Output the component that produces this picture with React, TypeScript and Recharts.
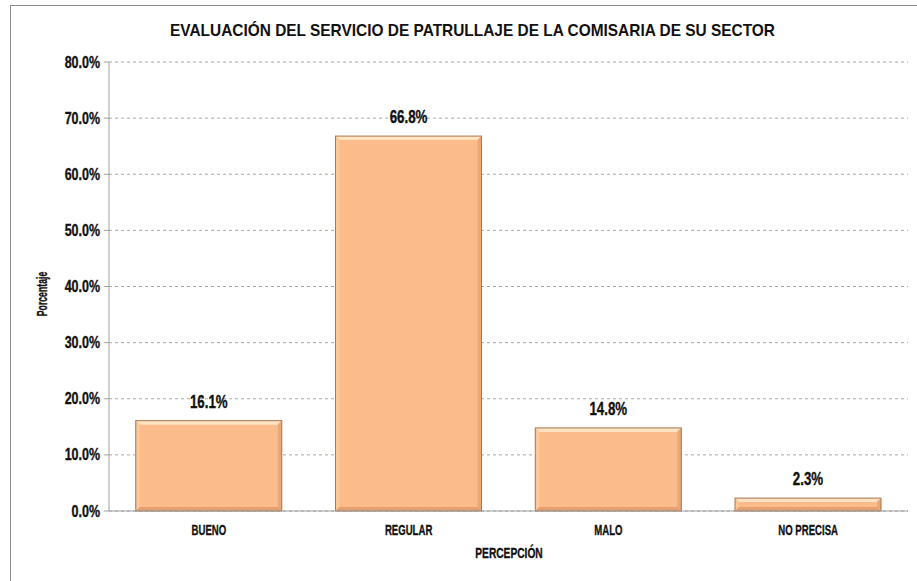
import { BarChart, Bar, XAxis, YAxis, CartesianGrid, LabelList } from 'recharts';

const categories = ['BUENO', 'REGULAR', 'MALO', 'NO PRECISA'];
const percentages = [16.1, 66.8, 14.8, 2.3];
const yTicks = [0, 10, 20, 30, 40, 50, 60, 70, 80];

const data = categories.map((name, i) => ({ name, value: percentages[i] }));

const FONT = "'Liberation Sans', Arial, sans-serif";

// narrow, tall text to imitate the condensed font of the original
function NarrowText({ x, y, text, size, sx, anchor = 'middle', rotate = 0 }: any) {
  return (
    <text
      transform={`translate(${x},${y}) rotate(${rotate}) scale(${sx},1)`}
      textAnchor={anchor}
      dominantBaseline="central"
      fontFamily={FONT}
      fontWeight="bold"
      fontSize={size}
      fill="#111"
      stroke="#111"
      strokeWidth={0.35}
    >
      {text}
    </text>
  );
}

function YTick(props: any) {
  const { x, y, payload } = props;
  return <NarrowText x={x - 2} y={y} text={`${payload.value.toFixed(1)}%`} size={16} sx={0.78} anchor="end" />;
}

function XTick(props: any) {
  const { x, y, payload } = props;
  return <NarrowText x={x} y={y + 11} text={payload.value} size={15} sx={0.64} />;
}

function ValueLabel(props: any) {
  const { x, y, width, value } = props;
  return <NarrowText x={x + width / 2} y={y - 19} text={`${Number(value).toFixed(1)}%`} size={18} sx={0.74} />;
}

function BevelBar(props: any) {
  const { x, y, width, height } = props;
  if (!height || height <= 0) return null;
  const b = Math.min(4, height / 3);
  return (
    <g>
      <rect x={x} y={y} width={width} height={height} fill="#fcbb8a" />
      <polygon
        points={`${x},${y} ${x + width},${y} ${x + width - b},${y + b} ${x + b},${y + b}`}
        fill="#fee2c2"
      />
      <polygon
        points={`${x},${y} ${x + b},${y + b} ${x + b},${y + height - b} ${x},${y + height}`}
        fill="#fdc899"
      />
      <polygon
        points={`${x + width},${y} ${x + width},${y + height} ${x + width - b},${y + height - b} ${x + width - b},${y + b}`}
        fill="#e8a878"
      />
      <polygon
        points={`${x},${y + height} ${x + width},${y + height} ${x + width - b},${y + height - b} ${x + b},${y + height - b}`}
        fill="#e4a070"
      />
      <rect x={x} y={y} width={width} height={height} fill="none" stroke="#a87650" strokeWidth={1} />
    </g>
  );
}

export default function App() {
  return (
    <div
      style={{
        position: 'absolute',
        left: 0,
        top: 0,
        width: 917,
        height: 581,
        overflow: 'hidden',
        background: '#fff',
      }}
    >
      <div
        style={{
          position: 'absolute',
          left: 10,
          top: 5,
          width: 1000,
          height: 700,
          borderLeft: '1px solid #8c8c8c',
          borderTop: '1px solid #8c8c8c',
        }}
      />
      <svg style={{ position: 'absolute', left: 0, top: 0 }} width={917} height={581}>
        <text
          x={170}
          y={36}
          textLength={605}
          lengthAdjust="spacingAndGlyphs"
          fontFamily={FONT}
          fontWeight="bold"
          fontSize={17}
          fill="#111"
        >
          EVALUACIÓN DEL SERVICIO DE PATRULLAJE DE LA COMISARIA DE SU SECTOR
        </text>
        <NarrowText x={509} y={553} text="PERCEPCIÓN" size={15} sx={0.68} />
        <NarrowText x={42} y={294} text="Porcentaje" size={15} sx={0.58} rotate={-90} />
      </svg>
      <div style={{ position: 'absolute', left: 0, top: 0 }}>
        <BarChart
          width={917}
          height={581}
          data={data}
          margin={{ top: 62, right: 9, left: 49, bottom: 40 }}
          barCategoryGap="13.4%"
        >
          <CartesianGrid vertical={false} stroke="#a8a8a8" strokeDasharray="3 3" />
          <XAxis
            dataKey="name"
            height={30}
            stroke="#a0a0a0"
            tickLine={false}
            tick={<XTick />}
          />
          <YAxis
            width={60}
            domain={[0, 80]}
            ticks={yTicks}
            stroke="#a0a0a0"
            tickSize={5}
            interval={0}
            tick={<YTick />}
          />
          <Bar dataKey="value" shape={<BevelBar />} isAnimationActive={false}>
            <LabelList dataKey="value" content={<ValueLabel />} />
          </Bar>
        </BarChart>
      </div>
    </div>
  );
}
